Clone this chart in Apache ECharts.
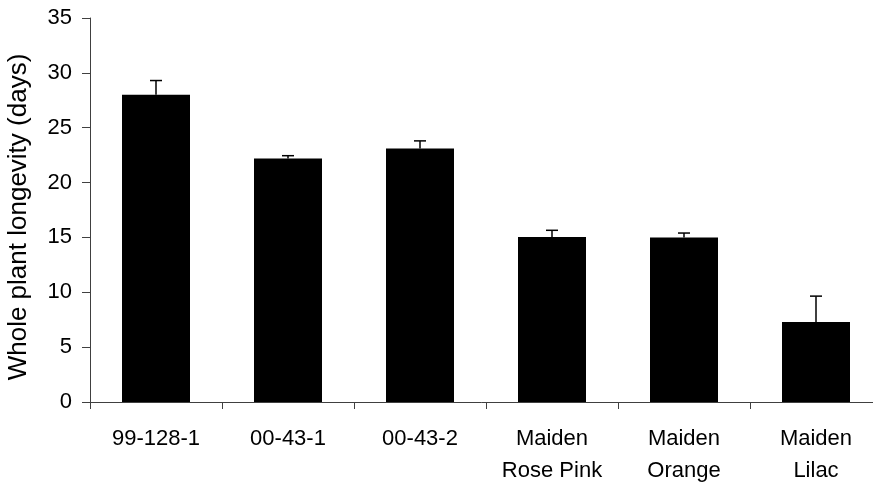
<!DOCTYPE html>
<html>
<head>
<meta charset="utf-8">
<script src="https://cdn.jsdelivr.net/npm/echarts@6/dist/echarts.min.js"></script>
<style>html,body{margin:0;padding:0;background:#fff;overflow:hidden}#c{width:873px;height:483px}</style>
</head>
<body>
<div id="c"></div>
<script>
var categories = ['99-128-1', '00-43-1', '00-43-2', 'Maiden\nRose Pink', 'Maiden\nOrange', 'Maiden\nLilac'];
var values = [28.0, 22.2, 23.1, 15.05, 15.0, 7.3];
var errors = [1.3, 0.25, 0.7, 0.6, 0.4, 2.35];
var yTicks = [0, 5, 10, 15, 20, 25, 30, 35];

var chart = echarts.init(document.getElementById('c'), null, {renderer: 'canvas'});
var font = 'Liberation Sans, Arial, sans-serif';
var axisColor = '#404040';

var errData = values.map(function (v, i) { return [i, v, v + errors[i]]; });

chart.setOption({
  animation: false,
  backgroundColor: '#fff',
  grid: {left: 90, top: 18, bottom: 81, right: -9, containLabel: false, outerBoundsMode: 'none'},
  xAxis: {
    type: 'category',
    data: categories,
    boundaryGap: true,
    axisLine: {lineStyle: {color: axisColor, width: 1}},
    axisTick: {show: true, length: 7, inside: false, alignWithLabel: false, lineStyle: {color: axisColor}},
    axisLabel: {color: '#000', fontSize: 22, fontFamily: font, margin: 21, lineHeight: 32, interval: 0},
    splitLine: {show: false}
  },
  yAxis: {
    type: 'value',
    min: 0, max: 35, interval: 5,
    name: 'Whole plant longevity (days)',
    nameLocation: 'middle',
    nameRotate: 90,
    nameGap: 58,
    nameTextStyle: {color: '#000', fontSize: 26, fontFamily: font, padding: [0, 14, 0, 0]},
    axisLine: {show: true, lineStyle: {color: axisColor, width: 1}},
    axisTick: {show: true, length: 8, lineStyle: {color: axisColor}},
    axisLabel: {color: '#000', fontSize: 22, fontFamily: font, margin: 18,
      formatter: function (v) { return yTicks.indexOf(v) >= 0 ? String(v) : ''; }},
    splitLine: {show: false}
  },
  series: [
    {
      type: 'bar',
      data: values,
      barWidth: 68,
      itemStyle: {color: '#000'},
      z: 2
    },
    {
      type: 'custom',
      data: errData,
      z: 3,
      renderItem: function (params, api) {
        var x = api.value(0);
        var lo = api.coord([x, api.value(1)]);
        var hi = api.coord([x, api.value(2)]);
        var hw = 6;
        return {
          type: 'group',
          children: [
            {type: 'line', shape: {x1: lo[0], y1: lo[1], x2: hi[0], y2: hi[1]}, style: {stroke: '#000', lineWidth: 1.5}},
            {type: 'line', shape: {x1: hi[0] - hw, y1: hi[1], x2: hi[0] + hw, y2: hi[1]}, style: {stroke: '#000', lineWidth: 1.5}}
          ]
        };
      }
    }
  ]
});
</script>
</body>
</html>
